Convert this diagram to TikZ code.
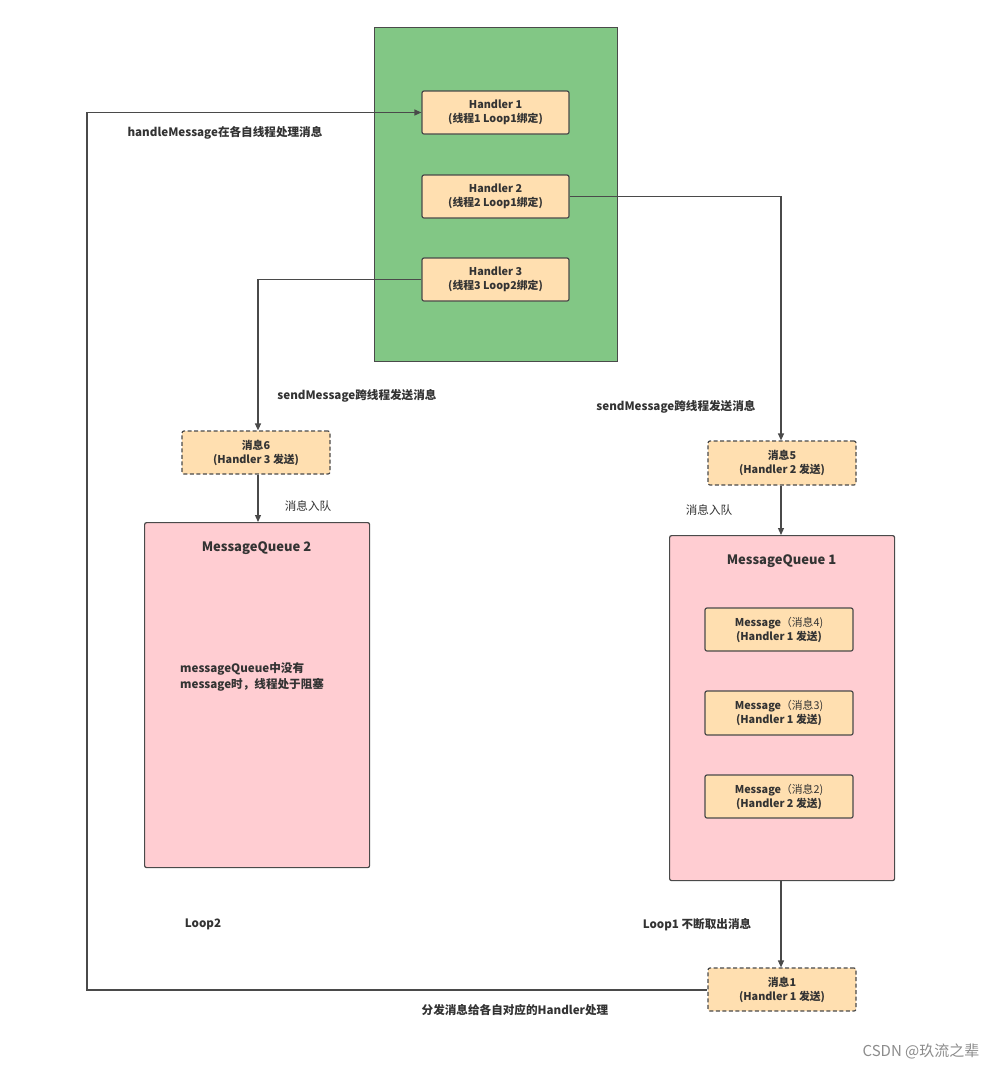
\documentclass[tikz,border=0pt]{standalone}
\usepackage{fontspec}
\setmainfont{Noto Sans CJK SC}
\usetikzlibrary{arrows.meta}
\definecolor{grn}{HTML}{82C785}
\definecolor{org}{HTML}{FFDFB0}
\definecolor{pnk}{HTML}{FFCDD2}
\definecolor{edge}{HTML}{4A4A4A}
\definecolor{txt}{HTML}{333333}
\tikzset{
  x=1pt,y=-1pt,
  box/.style={draw=edge,line width=1.2pt,rounded corners=2pt,fill=org,align=center,text=txt,
    font=\fontsize{10.8}{14}\selectfont\bfseries,inner sep=0pt},
  dbox/.style={box,dashed,dash pattern=on 4pt off 2.5pt},
  conn/.style={draw=edge,line width=1.2pt,-{Triangle[length=7pt,width=6pt]}},
  lbl/.style={text=txt,font=\fontsize{11.6}{16}\selectfont\bfseries,inner sep=0pt},
  lblr/.style={text=txt,font=\fontsize{11.6}{16}\selectfont,inner sep=0pt},
}
\begin{document}
\begin{tikzpicture}
\useasboundingbox (0,0) rectangle (1005,1069);
\fill[white] (0,0) rectangle (1005,1069);
% green container
\node[draw=edge,line width=1.2pt,fill=grn,minimum width=243pt,minimum height=334pt,anchor=north west,inner sep=0pt] (grp) at (374,27) {};
% handlers
\node[box,minimum width=147pt,minimum height=43pt] (h1) at (495.5,112.5) {Handler 1\\(线程1 Loop1绑定)};
\node[box,minimum width=147pt,minimum height=43pt] (h2) at (495.5,196.5) {Handler 2\\(线程2 Loop1绑定)};
\node[box,minimum width=147pt,minimum height=43pt] (h3) at (495.5,279.5) {Handler 3\\(线程3 Loop2绑定)};
% message 6 and 5
\node[dbox,minimum width=148pt,minimum height=43pt] (m6) at (256,452.5) {消息6\\(Handler 3 发送)};
\node[dbox,minimum width=148pt,minimum height=44pt] (m5) at (782,463) {消息5\\(Handler 2 发送)};
% queues
\node[draw=edge,line width=1.2pt,rounded corners=2pt,fill=pnk,minimum width=225pt,minimum height=345pt,anchor=north west,inner sep=0pt] (q2) at (144,522) {};
\node[draw=edge,line width=1.2pt,rounded corners=2pt,fill=pnk,minimum width=225pt,minimum height=345pt,anchor=north west,inner sep=0pt] (q1) at (669,535) {};
\node[lbl,font=\fontsize{13}{15}\selectfont\bfseries] (q2t) at (256.5,548) {MessageQueue 2};
\node[lbl,font=\fontsize{13}{15}\selectfont\bfseries] (q1t) at (781.5,561) {MessageQueue 1};
\node[lbl,align=left,anchor=west] (q2n) at (180,677) {messageQueue中没有\\message时，线程处于阻塞};
% messages in queue 1
\node[box,font=\fontsize{10.8}{14}\selectfont,minimum width=148pt,minimum height=43pt] (mg4) at (779,629.5) {\textbf{Message}（消息4)\\\bfseries(Handler 1 发送)};
\node[box,font=\fontsize{10.8}{14}\selectfont,minimum width=148pt,minimum height=44pt] (mg3) at (779,713) {\textbf{Message}（消息3)\\\bfseries(Handler 1 发送)};
\node[box,font=\fontsize{10.8}{14}\selectfont,minimum width=148pt,minimum height=43pt] (mg2) at (779,796.5) {\textbf{Message}（消息2)\\\bfseries(Handler 2 发送)};
% message 1
\node[dbox,minimum width=148pt,minimum height=43pt] (m1) at (782,989.5) {消息1\\(Handler 1 发送)};
% connectors
\coordinate (c2) at (781,196.5);
\coordinate (c3) at (258,279.5);
\coordinate (c1a) at (87,990);
\coordinate (c1b) at (87,112.5);
\draw[conn] (h2.east) -- (c2) -- (m5.north -| c2);
\draw[conn] (h3.west) -- (c3) -- (m6.north -| c3);
\draw[conn] (m6.south -| c3) -- (q2.north -| c3);
\draw[conn] (m5.south -| c2) -- (q1.north -| c2);
\draw[conn] (q1.south -| c2) -- (m1.north -| c2);
\draw[conn] (m1.west |- c1a) -- (c1a) -- (c1b) -- (h1.west);
% labels
\node[lbl] (l1) at (225,133) {handleMessage在各自线程处理消息};
\node[lbl] (l2) at (357,396) {sendMessage跨线程发送消息};
\node[lbl] (l3) at (676,407) {sendMessage跨线程发送消息};
\node[lblr] (l4) at (308,506) {消息入队};
\node[lblr] (l5) at (709,510) {消息入队};
\node[lbl] (l6) at (203,924) {Loop2};
\node[lbl] (l7) at (697,925) {Loop1 不断取出消息};
\node[lbl] (l8) at (515,1010) {分发消息给各自对应的Handler处理};
\node[text=black!45,font=\fontsize{15}{17}\selectfont,inner sep=0pt] (wm) at (921,1051) {CSDN @玖流之辈};
\end{tikzpicture}
\end{document}
